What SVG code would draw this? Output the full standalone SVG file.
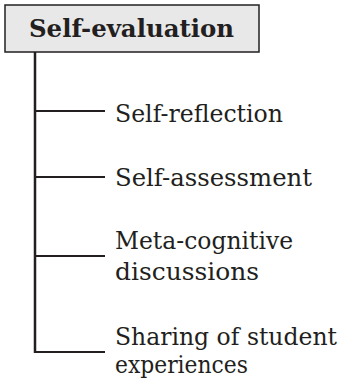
<svg xmlns="http://www.w3.org/2000/svg" width="346" height="380" viewBox="0 0 346 380">
<style>
.lbl{font-family:"DejaVu Serif","Liberation Serif",serif;font-size:24px;fill:#231f20}
.ttl{font-family:"DejaVu Serif","Liberation Serif",serif;font-size:24px;font-weight:bold;fill:#231f20}
.ln{stroke:#231f20;fill:none}
</style>
<rect width="346" height="380" fill="#ffffff"/>
<g id="root">
<rect x="5" y="5" width="254" height="47" fill="#e8e8e8" stroke="#231f20" stroke-width="1.5"/>
<text class="ttl" x="29" y="37" textLength="205" lengthAdjust="spacingAndGlyphs">Self-evaluation</text>
</g>
<g id="connectors">
<line class="ln" x1="35" y1="52" x2="35" y2="353" stroke-width="2.5"/>
<line class="ln" x1="35" y1="111" x2="105" y2="111" stroke-width="2"/>
<line class="ln" x1="35" y1="177" x2="105" y2="177" stroke-width="2"/>
<line class="ln" x1="35" y1="256" x2="105" y2="256" stroke-width="2"/>
<line class="ln" x1="34" y1="352" x2="105" y2="352" stroke-width="2"/>
</g>
<g id="n1"><text class="lbl" x="115" y="122" textLength="168" lengthAdjust="spacingAndGlyphs">Self-reflection</text></g>
<g id="n2"><text class="lbl" x="115" y="186" textLength="197" lengthAdjust="spacingAndGlyphs">Self-assessment</text></g>
<g id="n3"><text class="lbl" x="115" y="249" textLength="178" lengthAdjust="spacingAndGlyphs">Meta-cognitive</text><text class="lbl" x="115" y="280" textLength="144" lengthAdjust="spacingAndGlyphs">discussions</text></g>
<g id="n4"><text class="lbl" x="115" y="345" textLength="222" lengthAdjust="spacingAndGlyphs">Sharing of student</text><text class="lbl" x="115" y="373" textLength="133" lengthAdjust="spacingAndGlyphs">experiences</text></g>
</svg>
